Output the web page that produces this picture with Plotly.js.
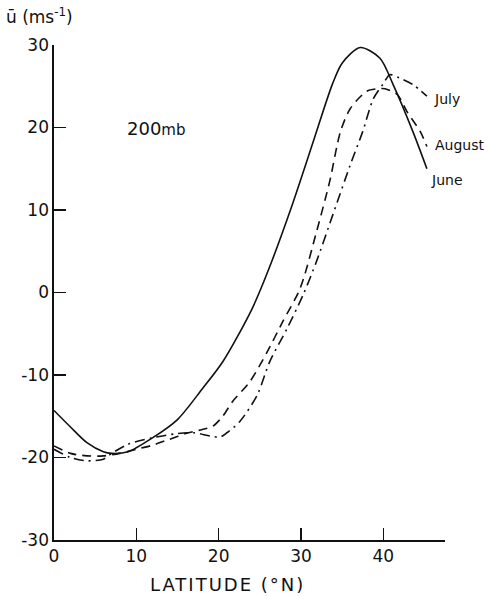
<!DOCTYPE html>
<html>
<head>
<meta charset="utf-8">
<script src="https://cdn.plot.ly/plotly-3.0.1.min.js"></script>
<style>html,body{margin:0;padding:0;background:#fff;}#chart{width:488px;height:596px;}</style>
</head>
<body>
<div id="chart"></div>
<script>
// Latitude (°N) and zonal wind (m/s) at 200 mb
const juneLat = [0, 2, 4, 6, 7, 9, 12, 15, 18, 20.5, 24, 26, 29, 31.5, 33.8, 35, 37.2, 39.6, 41.2, 43.6, 45.3];
const juneU   = [-14.3, -16.3, -18.2, -19.3, -19.5, -19.3, -17.6, -15.4, -11.7, -8.4, -2.1, 2.6, 10.8, 18.3, 25.2, 27.8, 29.7, 28.4, 25.2, 19.5, 15];

const julyLat = [0, 2, 4, 6, 7, 9, 12, 15, 17, 19, 20.2, 21, 22.6, 24.7, 26.2, 28.3, 30.3, 31.9, 33.9, 36, 37.5, 38.8, 40, 40.8, 42, 43.6, 45.3];
const julyU   = [-19, -20, -20.4, -20.2, -19.5, -18.4, -17.6, -17.1, -17, -17.4, -17.5, -17, -15.6, -12.4, -8.4, -4.4, -0.2, 3.8, 9.5, 15.5, 19.5, 23.5, 25.3, 26.4, 26, 25.2, 23.8];

const augLat = [0, 2, 4, 6, 8, 10, 12, 14, 16, 18, 19.3, 20.5, 21.7, 23.8, 25.9, 27.8, 29.9, 31.9, 33.5, 34.8, 36, 38, 39.4, 40.2, 41.7, 42.9, 44.5, 45.3];
const augU   = [-18.6, -19.5, -19.8, -19.8, -19.5, -19, -18.5, -17.8, -17.1, -16.6, -16.2, -15, -13.2, -10.8, -7.2, -3.5, 0.5, 7.4, 13.5, 19.5, 22.3, 24.4, 24.7, 24.7, 24, 21.9, 19.5, 17.7];

const xTicks = [0, 10, 20, 30, 40];
const yTicks = [-30, -20, -10, 0, 10, 20, 30];

const font = 'DejaVu Sans, Verdana, sans-serif';
const lineCol = '#111';

const traces = [
  {x: juneLat, y: juneU, name: 'June', mode: 'lines', line: {color: lineCol, width: 1.6, shape: 'spline', smoothing: 0.8}},
  {x: julyLat, y: julyU, name: 'July', mode: 'lines', line: {color: lineCol, width: 1.6, dash: '10px,5px,2px,5px', shape: 'spline', smoothing: 0.8}},
  {x: augLat, y: augU, name: 'August', mode: 'lines', line: {color: lineCol, width: 1.6, dash: '9px,6px', shape: 'spline', smoothing: 0.8}}
];

const labelFont = {family: font, size: 14, color: lineCol};
const annotations = [
  {x: 12.4, y: 19.9, xref: 'x', yref: 'y', text: '200<span style="font-size:15px">mb</span>', showarrow: false, font: {family: font, size: 18, color: lineCol}},
  {x: -0.128, y: 1.059, xref: 'paper', yref: 'paper', xanchor: 'left', yanchor: 'middle', text: 'ū (ms<sup>-1</sup>)', showarrow: false, font: {family: font, size: 17, color: lineCol}},
  {x: 0.445, y: -0.09, xref: 'paper', yref: 'paper', xanchor: 'center', yanchor: 'middle', text: '<span style="letter-spacing:2px">LATITUDE (°N)</span>', showarrow: false, font: {family: font, size: 18, color: lineCol}},
  {x: 45.9, y: 23.5, xref: 'x', yref: 'y', xanchor: 'left', text: 'July', showarrow: false, font: labelFont},
  {x: 46.1, y: 17.9, xref: 'x', yref: 'y', xanchor: 'left', text: 'August', showarrow: false, font: labelFont},
  {x: 45.6, y: 13.6, xref: 'x', yref: 'y', xanchor: 'left', text: 'June', showarrow: false, font: labelFont}
];

const layout = {
  width: 488, height: 596,
  margin: {l: 54, r: 43, t: 45, b: 56},
  paper_bgcolor: '#fff', plot_bgcolor: '#fff',
  showlegend: false,
  font: {family: font, size: 17, color: lineCol},
  xaxis: {
    range: [0, 47.5], tickvals: xTicks, ticktext: xTicks.map(String),
    ticks: 'inside', ticklen: 12, tickwidth: 1.5, tickcolor: lineCol,
    showline: true, linecolor: lineCol, linewidth: 1.6, showgrid: false, zeroline: false,
    tickfont: {family: font, size: 17, color: lineCol}
  },
  yaxis: {
    range: [-30, 30], tickvals: yTicks, ticktext: yTicks.map(v => v < 0 ? '-' + Math.abs(v) : String(v)),
    ticks: 'inside', ticklen: 12, tickwidth: 1.5, tickcolor: lineCol,
    showline: true, linecolor: lineCol, linewidth: 1.6, showgrid: false, zeroline: false,
    tickfont: {family: font, size: 17, color: lineCol}
  },
  annotations: annotations
};

Plotly.newPlot('chart', traces, layout, {displayModeBar: false, staticPlot: true});
</script>
</body>
</html>
